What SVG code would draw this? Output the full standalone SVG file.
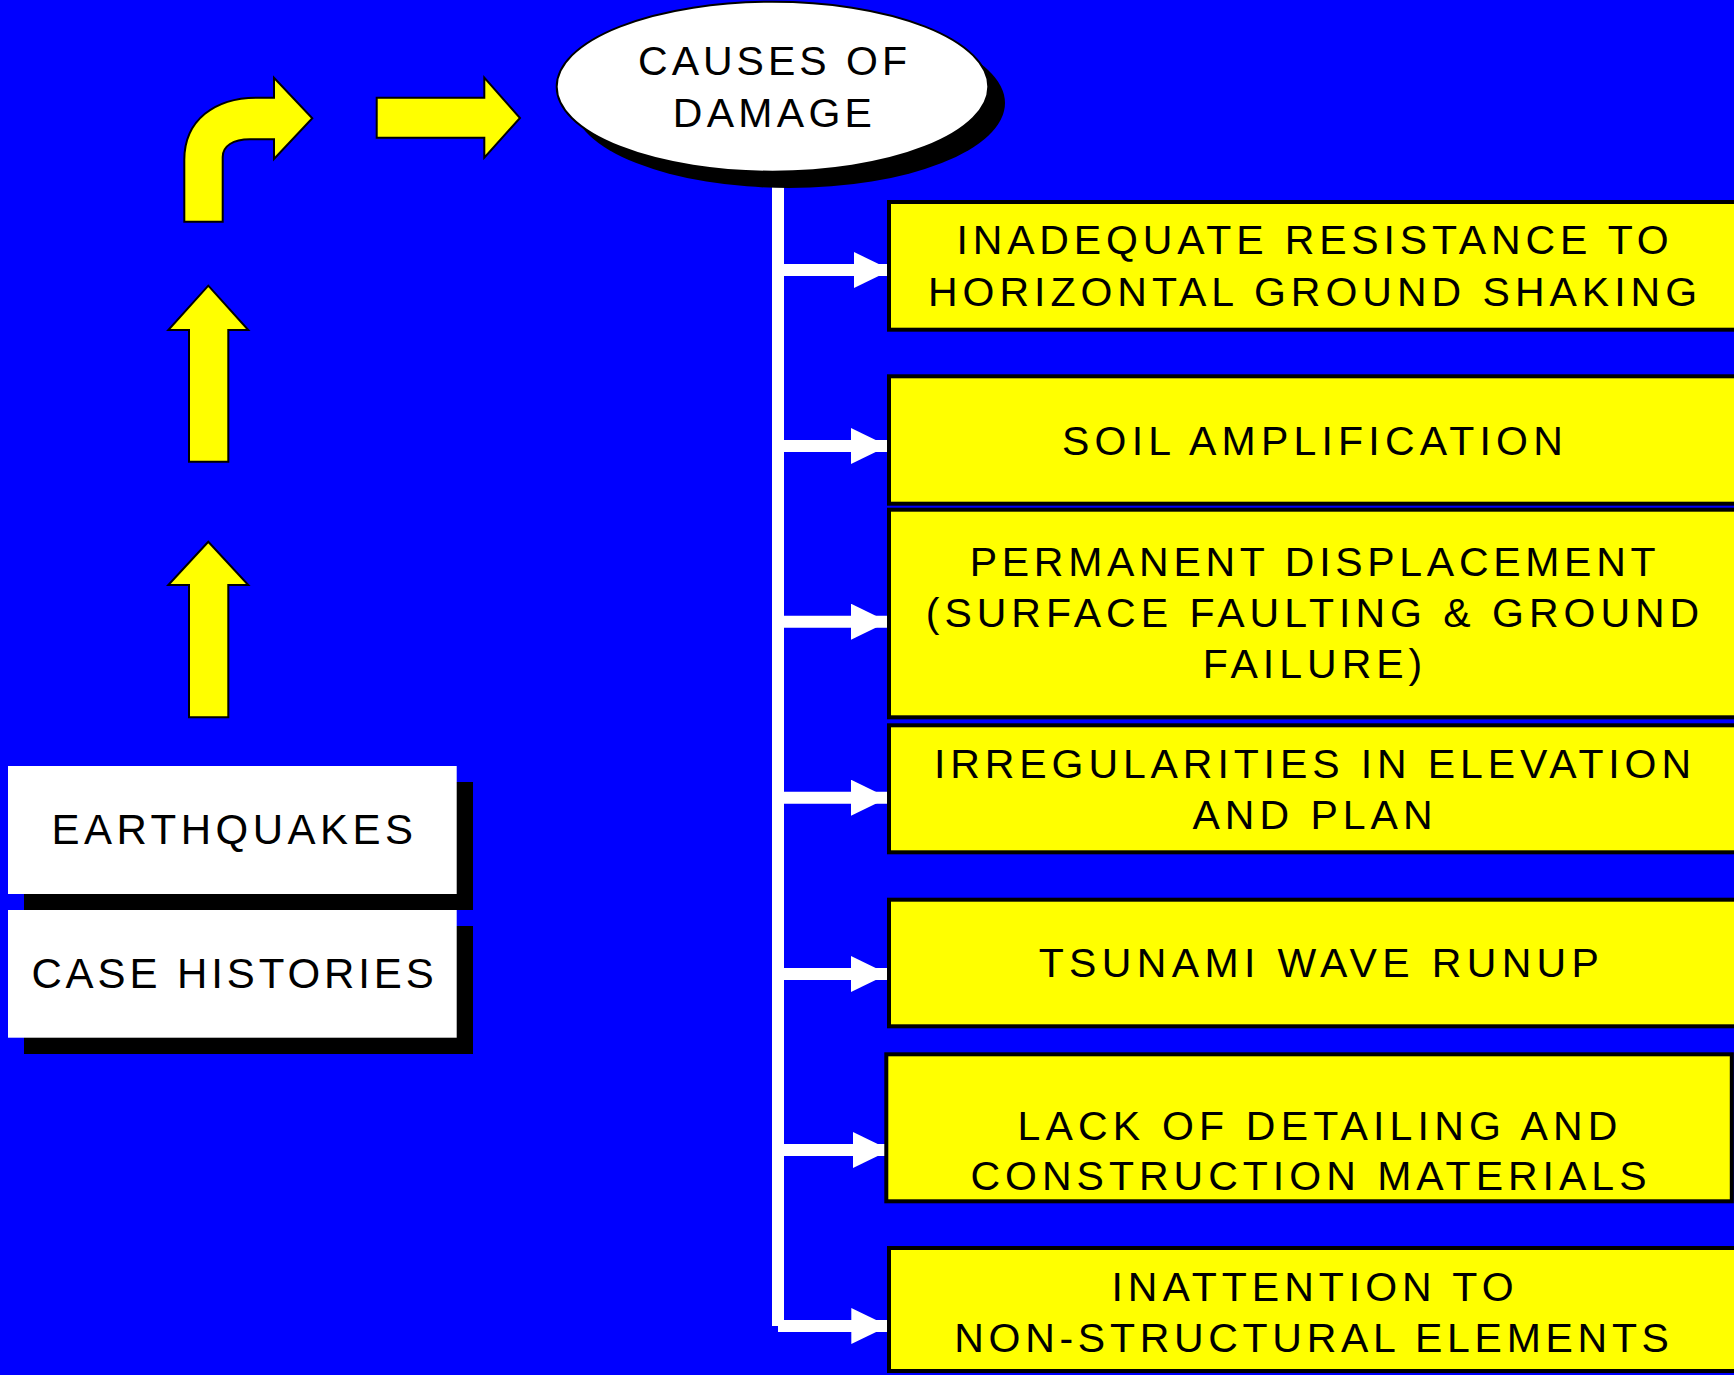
<svg xmlns="http://www.w3.org/2000/svg" width="1734" height="1375" viewBox="0 0 1734 1375">
<defs>
<style>
.bg{fill:#0000ff}
.ya{fill:#ffff00;stroke:#000;stroke-width:2;stroke-linejoin:miter}
.box{fill:#ffff00;stroke:#000;stroke-width:4}
.wbox{fill:#fff}
.shadow{fill:#000}
.t{font-family:"Liberation Sans",Arial,sans-serif;font-size:41px;fill:#000;text-anchor:middle;letter-spacing:5px}
.conn{stroke:#fff;stroke-width:12;fill:none}
</style>
<marker id="ah" markerUnits="userSpaceOnUse" markerWidth="37" markerHeight="36" refX="37" refY="18" orient="auto">
<path d="M0,0 L37,18 L0,36 Z" fill="#fff"/>
</marker>
</defs>
<rect class="bg" x="0" y="0" width="1734" height="1375"/>

<g id="flow-arrows">
<path class="ya" d="M184.3,221.7 L184.3,160 C184.3,120 215,97.7 257,97.7 L274,97.7 L274,77.7 L312.3,118.3 L274,159 L274,139.3 L250,139.3 C233,139.3 222.7,146 222.7,157 L222.7,221.7 Z"/>
<path class="ya" d="M376.7,97.7 L484.3,97.7 L484.3,77.7 L520,118 L484.3,157.7 L484.3,137.7 L376.7,137.7 Z"/>
<path class="ya" d="M189,461.7 L189,330 L168.3,330 L208.3,285.7 L248.3,330 L228.3,330 L228.3,461.7 Z"/>
<path class="ya" d="M189,717.3 L189,585 L168.3,585 L208.3,541.7 L248.3,585 L228.3,585 L228.3,717.3 Z"/>
</g>

<g id="connectors">
<line class="conn" x1="778" y1="170" x2="778" y2="1326"/>
<line class="conn" x1="778" y1="270" x2="891" y2="270" marker-end="url(#ah)"/>
<line class="conn" x1="778" y1="446" x2="888" y2="446" marker-end="url(#ah)"/>
<line class="conn" x1="778" y1="621.7" x2="888" y2="621.7" marker-end="url(#ah)"/>
<line class="conn" x1="778" y1="797.7" x2="888" y2="797.7" marker-end="url(#ah)"/>
<line class="conn" x1="778" y1="974" x2="888" y2="974" marker-end="url(#ah)"/>
<line class="conn" x1="778" y1="1150" x2="890" y2="1150" marker-end="url(#ah)"/>
<line class="conn" x1="778" y1="1326" x2="888.3" y2="1326" marker-end="url(#ah)"/>
</g>

<g id="causes">
<ellipse class="shadow" cx="789" cy="103" rx="216" ry="85"/>
<ellipse cx="772.5" cy="86.7" rx="215.8" ry="85" fill="#fff" stroke="#000" stroke-width="2"/>
<text class="t" x="774.5" y="75" style="letter-spacing:4px">CAUSES OF</text>
<text class="t" x="774.5" y="126.7" style="letter-spacing:4.3px">DAMAGE</text>
</g>

<g id="earthquakes">
<rect class="shadow" x="24" y="782" width="449" height="128"/>
<rect class="wbox" x="8" y="766" width="448.7" height="128"/>
<text class="t" x="234.5" y="844" style="font-size:42px;letter-spacing:4.5px">EARTHQUAKES</text>
</g>

<g id="case-histories">
<rect class="shadow" x="24" y="926" width="449" height="128"/>
<rect class="wbox" x="8" y="910" width="448.7" height="127.7"/>
<text class="t" x="234.5" y="987.7" style="font-size:42px;letter-spacing:3.9px">CASE HISTORIES</text>
</g>

<g id="box1">
<rect class="box" x="889" y="202" width="900" height="127.7"/>
<text class="t" x="1315" y="254" style="letter-spacing:4.85px">INADEQUATE RESISTANCE TO</text>
<text class="t" x="1315" y="306">HORIZONTAL GROUND SHAKING</text>
</g>

<g id="box2">
<rect class="box" x="889" y="376.3" width="900" height="127.4"/>
<text class="t" x="1315" y="454.5" style="letter-spacing:5.2px">SOIL AMPLIFICATION</text>
</g>

<g id="box3">
<rect class="box" x="889" y="509.7" width="900" height="207.6"/>
<text class="t" x="1315" y="576" style="letter-spacing:4.7px">PERMANENT DISPLACEMENT</text>
<text class="t" x="1315" y="627.3">(SURFACE FAULTING &amp; GROUND</text>
<text class="t" x="1315" y="678.3">FAILURE)</text>
</g>

<g id="box4">
<rect class="box" x="889" y="725.3" width="900" height="127"/>
<text class="t" x="1315" y="777.5" style="letter-spacing:4.9px">IRREGULARITIES IN ELEVATION</text>
<text class="t" x="1315" y="828.5">AND PLAN</text>
</g>

<g id="box5">
<rect class="box" x="889" y="899.7" width="900" height="126.6"/>
<text class="t" x="1321.5" y="976.5" style="letter-spacing:5.35px">TSUNAMI WAVE RUNUP</text>
</g>

<g id="box6">
<rect class="box" x="886.3" y="1054.3" width="845.5" height="147"/>
<text class="t" x="1320" y="1140" style="letter-spacing:5.2px">LACK OF DETAILING AND</text>
<text class="t" x="1311" y="1190">CONSTRUCTION MATERIALS</text>
</g>

<g id="box7">
<rect class="box" x="889" y="1248" width="900" height="123"/>
<text class="t" x="1315" y="1300.7">INATTENTION TO</text>
<text class="t" x="1314" y="1351.7" style="letter-spacing:4.7px">NON-STRUCTURAL ELEMENTS</text>
</g>
</svg>
